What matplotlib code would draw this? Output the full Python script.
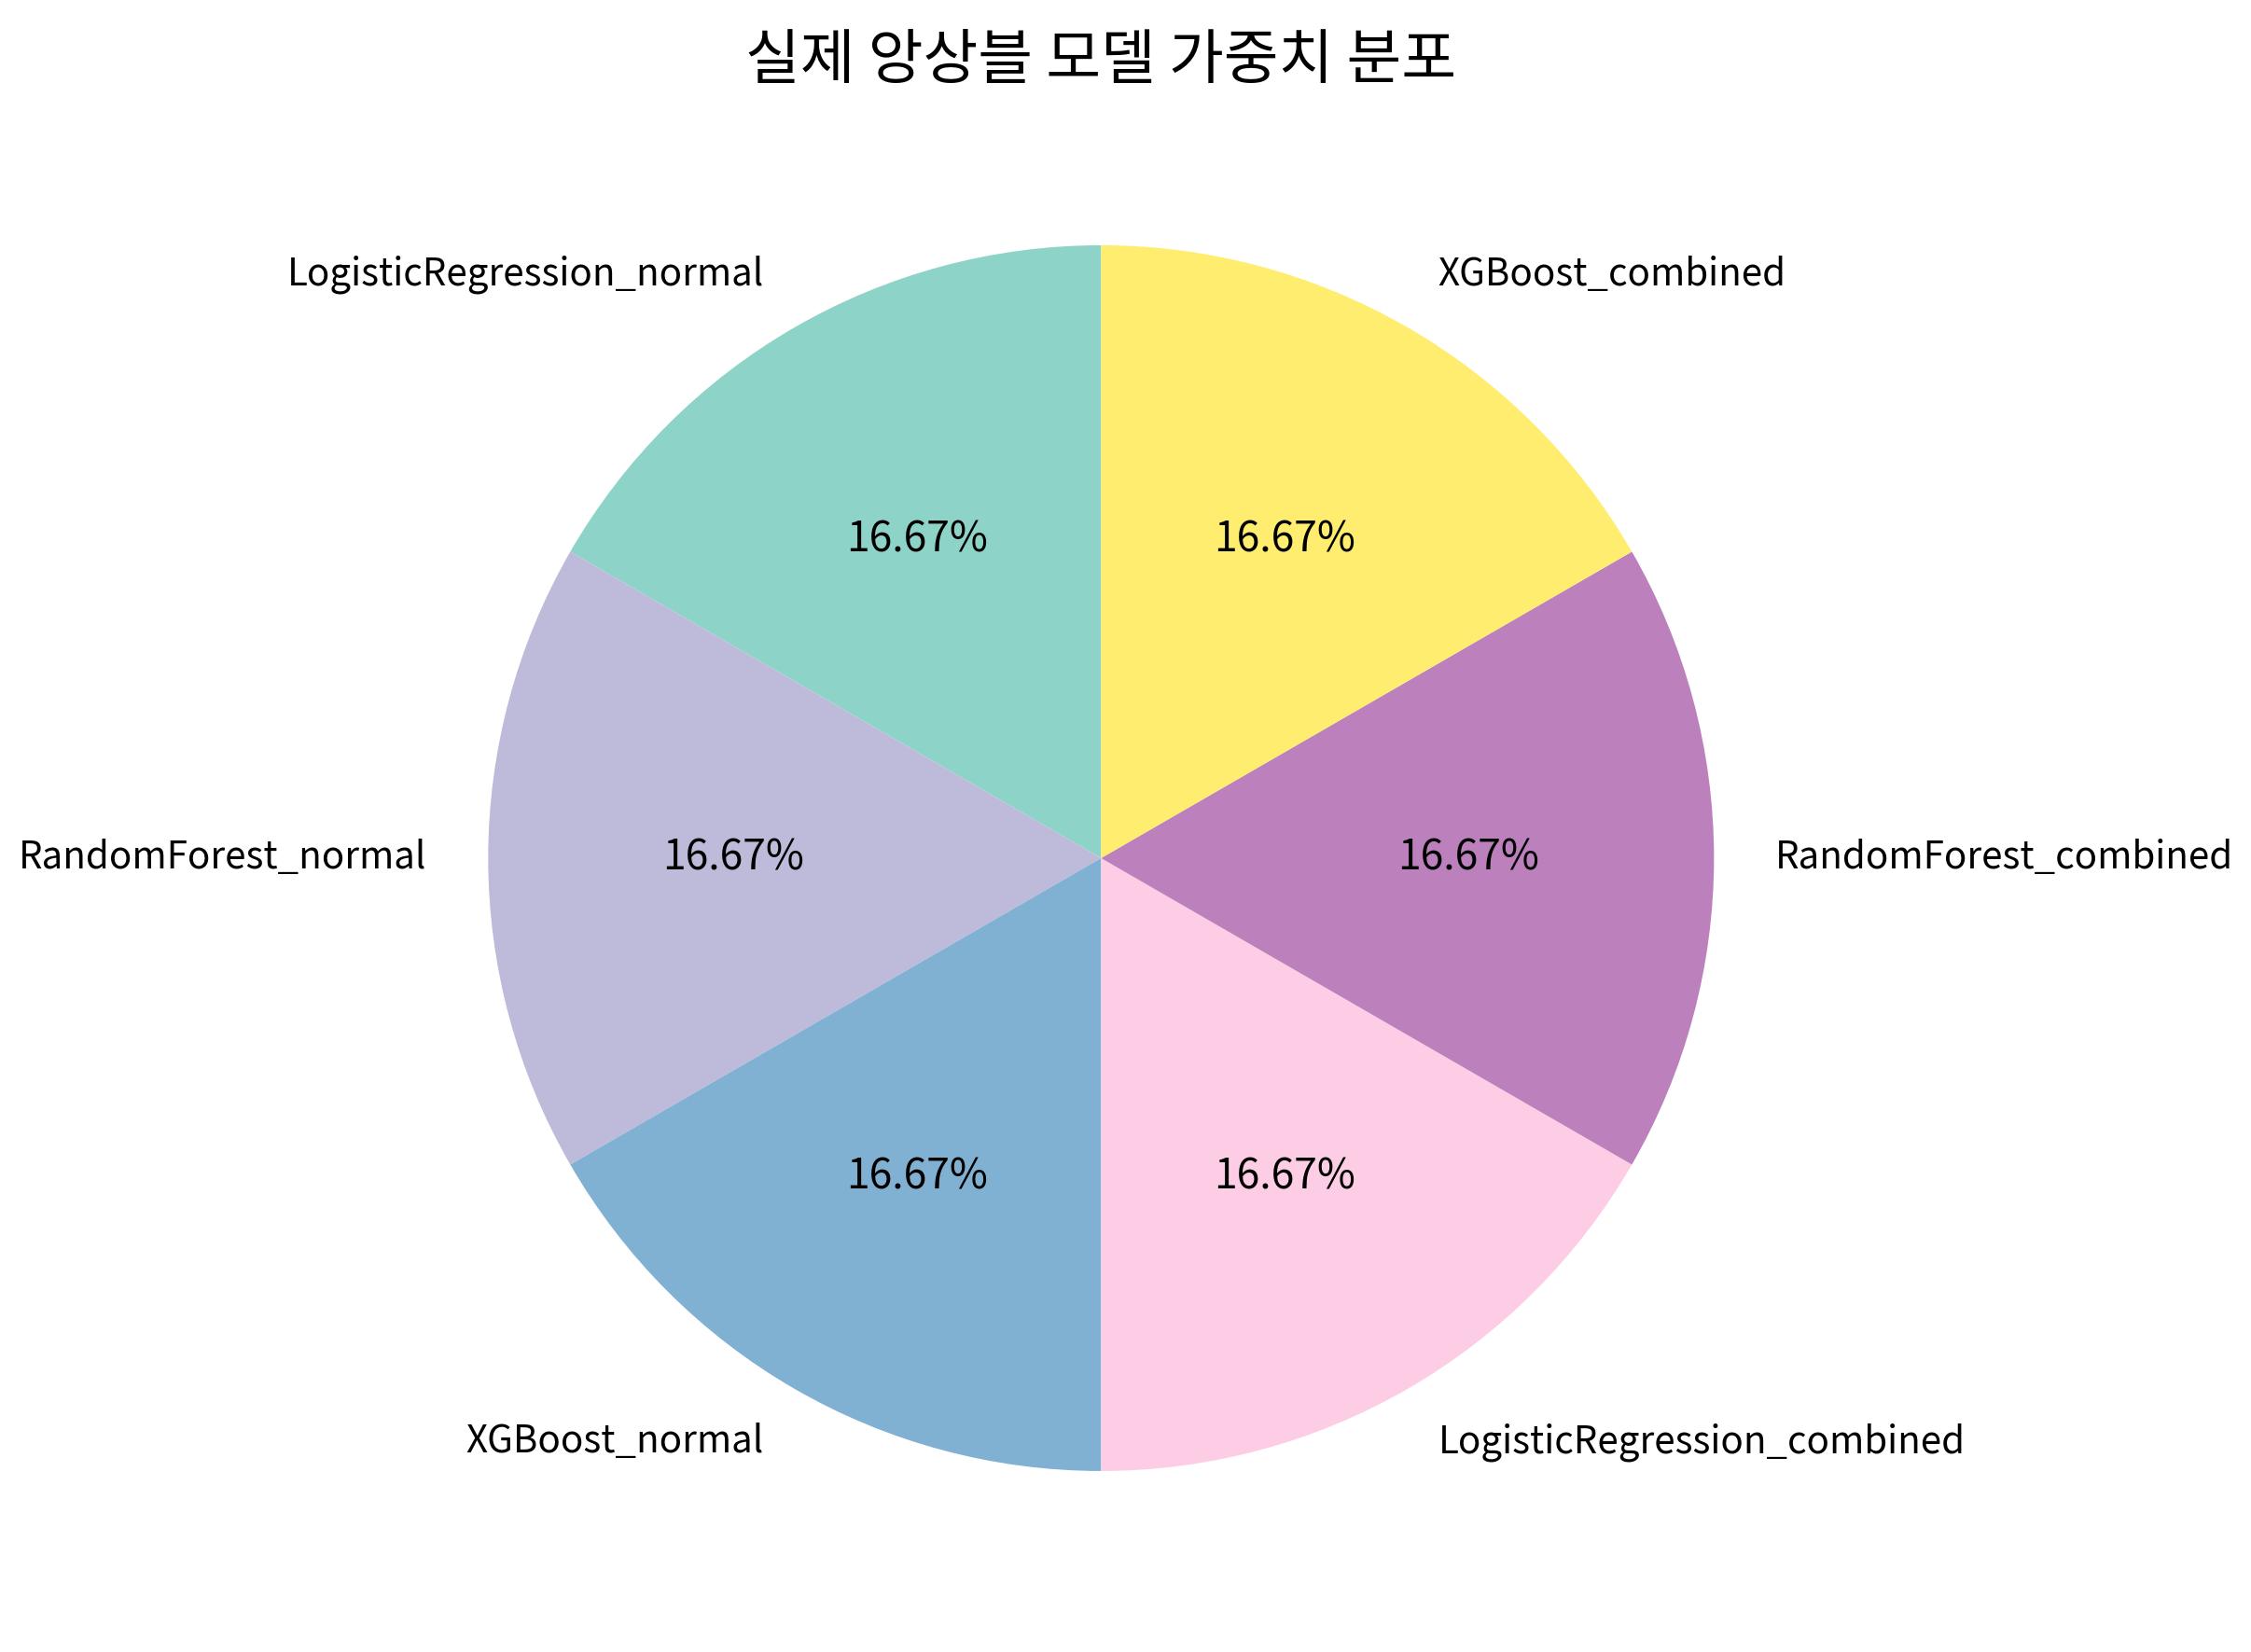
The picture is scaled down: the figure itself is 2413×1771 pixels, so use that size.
import numpy as np
import matplotlib.pyplot as plt

plt.rcParams['font.family'] = ['Noto Sans CJK KR', 'DejaVu Sans']

models = ['LogisticRegression_normal', 'RandomForest_normal', 'XGBoost_normal',
          'LogisticRegression_combined', 'RandomForest_combined', 'XGBoost_combined']
weights = [1/6, 1/6, 1/6, 1/6, 1/6, 1/6]

colors = plt.cm.Set3(np.linspace(0, 1, len(models)))

fig = plt.figure(figsize=(12.065, 8.855), dpi=200)
ax = fig.add_axes([0.1488, 0.0168, 0.6807, 0.9275])
wedges, texts, autotexts = ax.pie(weights, labels=models, autopct='%1.2f%%',
                                  startangle=90, colors=colors,
                                  textprops={'fontsize': 14.5})
for t in autotexts:
    t.set_fontsize(16)
ax.set_xlim(-1.25, 1.25)
ax.set_ylim(-1.25, 1.25)
ax.set_aspect('equal')
ax.set_title('실제 앙상블 모델 가중치 분포', fontsize=23, pad=4)
plt.savefig('out.png', dpi=200)
